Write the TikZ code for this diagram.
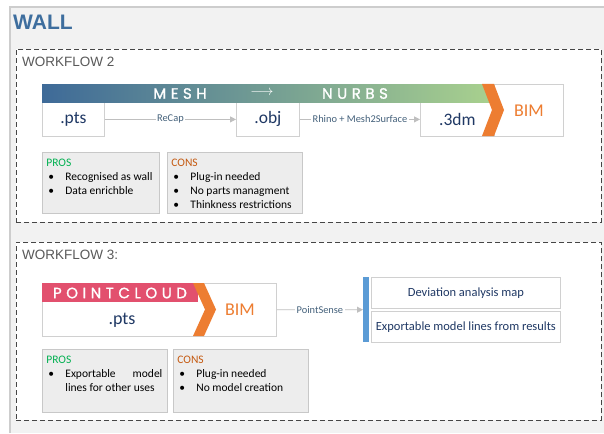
\documentclass[tikz,border=0pt]{standalone}
\usepackage{fontspec}
\setmainfont{Carlito}
\newfontfamily\arialfont{Liberation Sans}
\newfontfamily\bannerfont[LetterSpace=30, FakeBold=1.2]{Poppins}
\usepackage{tikz}
\usetikzlibrary{arrows.meta, calc}
\usetikzlibrary{arrows}
\definecolor{framefill}{RGB}{242,242,242}
\definecolor{frameline}{RGB}{205,205,205}
\definecolor{wallblue}{RGB}{62,110,158}
\definecolor{wfgray}{RGB}{89,89,89}
\definecolor{dashgray}{RGB}{70,70,70}
\definecolor{boxline}{RGB}{208,208,208}
\definecolor{navy}{RGB}{31,56,100}
\definecolor{gradblue}{RGB}{62,106,152}
\definecolor{gradmid}{RGB}{104,154,142}
\definecolor{gradgreen}{RGB}{169,209,142}
\definecolor{bimorange}{RGB}{237,125,49}
\definecolor{cloudpink}{RGB}{226,80,110}
\definecolor{arrowgray}{RGB}{191,191,191}
\definecolor{labelblue}{RGB}{68,97,123}
\definecolor{profill}{RGB}{237,237,237}
\definecolor{proline}{RGB}{200,200,200}
\definecolor{prosgreen}{RGB}{0,176,80}
\definecolor{consorange}{RGB}{197,90,17}
\definecolor{barblue}{RGB}{91,155,213}
\tikzstyle{walltitle} = [anchor=west, inner sep=0, text=wallblue,
    font=\arialfont\bfseries\fontsize{21}{24}\selectfont]
\tikzstyle{wflabel} = [anchor=west, inner sep=0, text=wfgray,
    font=\arialfont\fontsize{13.5}{16}\selectfont]
\tikzstyle{wfbox} = [draw=dashgray, fill=white, line width=0.8,
    dash pattern=on 5pt off 3pt, anchor=north west, inner sep=0]
\tikzstyle{filebox} = [draw=boxline, fill=white, line width=0.8,
    anchor=north west, inner sep=0, text=navy,
    font=\fontsize{17.5}{20}\selectfont]
\tikzstyle{filetext} = [inner sep=0, text=navy, font=\fontsize{18}{20}\selectfont]
\tikzstyle{bimtext} = [inner sep=0, text=bimorange, font=\fontsize{18}{20}\selectfont]
\tikzstyle{banner} = [anchor=north west, inner sep=0, draw=none]
\tikzstyle{bannertext} = [inner sep=0, text=white,
    font=\bannerfont\fontsize{15}{16}\selectfont]
\tikzstyle{flowline} = [draw=arrowgray, line width=0.8,
    -{Triangle[length=6pt,width=6pt]}]
\tikzstyle{flowlabel} = [fill=white, inner sep=1.5, text=labelblue,
    font=\fontsize{10.4}{12}\selectfont]
\tikzstyle{probox} = [draw=proline, fill=profill, line width=0.8,
    anchor=north west, inner sep=4, font=\fontsize{11.5}{14}\selectfont]
\tikzstyle{barbox} = [fill=barblue, anchor=north west, inner sep=0]
\tikzstyle{resultbox} = [draw=boxline, fill=white, line width=0.8,
    anchor=north west, inner sep=0, text=navy,
    font=\fontsize{12.5}{14}\selectfont]
\newcommand{\pitem}[1]{\makebox[19pt][l]{\hspace{2pt}\textbullet}\mbox{#1}}
\begin{document}
\begin{tikzpicture}[x=1pt, y=-1pt]
\useasboundingbox (0,0) rectangle (604,433);

    % 1. Frame and title
    \fill[framefill] (10,7) rectangle (604,433);
    \draw[frameline, line width=1.5] (10,433) -- (10,7) -- (604,7);
    \node[walltitle] (wall) at (13,22) {WALL};

    % 2. Dashed workflow areas
    \node[wfbox, minimum width=585, minimum height=173] (wf2) at (16,49) {};
    \node[wflabel] (wf2lab) at (22,62) {WORKFLOW 2};
    \node[wfbox, minimum width=585, minimum height=178] (wf3) at (16,242) {};
    \node[wflabel] (wf3lab) at (22,255) {WORKFLOW 3:};

    % 3. Workflow 2: files under the banner
    \node[filebox, minimum width=69, minimum height=52] (bim2) at (494,84) {};
    \node[bimtext] (bimlab2) at (529,111) {BIM};
    \node[filebox, minimum width=62, minimum height=34] (pts2) at (42,102) {.pts};
    \node[filebox, minimum width=63, minimum height=34] (obj2) at (236,102) {.obj};
    \node[filebox, minimum width=74, minimum height=34] (dm2) at (420,102) {.3dm};
    \node[banner, minimum width=452, minimum height=18,
        left color=gradblue, middle color=gradmid, right color=gradgreen] (banner2) at (42,84) {};
    \node[bannertext] (mesh) at (180,93.5) {MESH};
    \node[bannertext] (meshto) at (262,93) {$\longrightarrow$};
    \node[bannertext] (nurbs) at (355,93.5) {NURBS};
    \fill[bimorange] (482,84) -- (494,84) -- (504,110) -- (494,136) -- (482,136) -- (492,110) -- cycle;

    \draw[flowline] (pts2) -- node[flowlabel] {ReCap} (obj2);
    \draw[flowline] (obj2) -- node[flowlabel] {Rhino + Mesh2Surface} (dm2);

    % 4. Workflow 2: pros and cons
    \node[probox, minimum width=117, minimum height=61] (pros2) at (42,152)
        {\parbox[t][53pt][t]{109pt}{\strut\textcolor{prosgreen}{PROS}\\
        \pitem{Recognised as wall}\\
        \pitem{Data enrichble}}};
    \node[probox, minimum width=135, minimum height=61] (cons2) at (167,152)
        {\parbox[t][53pt][t]{127pt}{\strut\textcolor{consorange}{CONS}\\
        \pitem{Plug-in needed}\\
        \pitem{No parts managment}\\
        \pitem{Thinkness restrictions}}};

    % 5. Workflow 3: point cloud straight to BIM
    \node[filebox, minimum width=234, minimum height=53] (file3) at (42,283) {};
    \node[banner, fill=cloudpink, minimum width=156, minimum height=19] (banner3) at (42,283) {};
    \node[bannertext] (cloud) at (120,293) {POINTCLOUD};
    \fill[bimorange] (193,283) -- (204,283) -- (216,309.5) -- (204,336) -- (193,336) -- (205,309.5) -- cycle;
    \node[filetext] (pts3) at (122,320) {.pts};
    \node[bimtext] (bimlab3) at (240,310) {BIM};

    \node[barbox, minimum width=6, minimum height=65] (bar3) at (363,277) {};
    \node[resultbox, minimum width=189, minimum height=31] (dev3) at (371,277) {Deviation analysis map};
    \node[resultbox, minimum width=189, minimum height=31] (exp3) at (371,311) {Exportable model lines from results};
    \draw[flowline] (file3) -- node[flowlabel] {PointSense} (bar3);

    % 6. Workflow 3: pros and cons
    \node[probox, minimum width=125, minimum height=63] (pros3) at (42,349)
        {\parbox[t][55pt][t]{117pt}{\strut\textcolor{prosgreen}{PROS}\\
        \pitem{\makebox[97pt]{Exportable\hfill model}}\\
        \hspace*{19pt}lines for other uses}};
    \node[probox, minimum width=135, minimum height=63] (cons3) at (173,349)
        {\parbox[t][55pt][t]{127pt}{\strut\textcolor{consorange}{CONS}\\
        \pitem{Plug-in needed}\\
        \pitem{No model creation}}};

\end{tikzpicture}
\end{document}
